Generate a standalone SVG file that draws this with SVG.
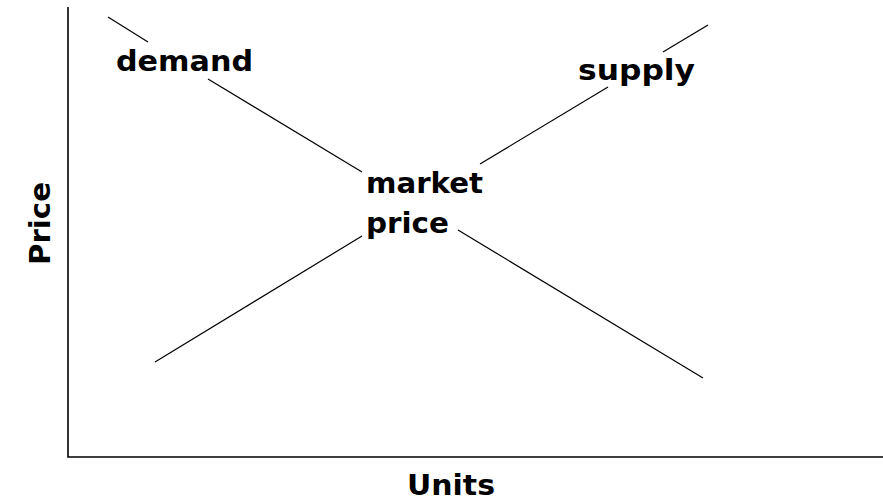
<svg xmlns="http://www.w3.org/2000/svg" width="883" height="501" viewBox="0 0 883 501">
<style>
.lbl{font-family:"DejaVu Sans","Liberation Sans",Arial,sans-serif;font-weight:bold;font-size:29px;fill:#000}
.axis{stroke:#000;stroke-width:1.6;fill:none}
.curve{stroke:#000;stroke-width:1.2;fill:none}
</style>
<rect width="883" height="501" fill="#fff"/>
<g id="axes">
<path class="axis" d="M68,7 V457 H883"/>
</g>
<g id="connectors">
<line class="curve" x1="108" y1="17" x2="148" y2="42"/>
<line class="curve" x1="208" y1="79" x2="362" y2="172"/>
<line class="curve" x1="458" y1="230" x2="703" y2="378"/>
<line class="curve" x1="155" y1="362" x2="362" y2="236"/>
<line class="curve" x1="480" y1="164" x2="608" y2="87"/>
<line class="curve" x1="663" y1="52" x2="708" y2="25"/>
</g>
<g id="demand"><text class="lbl" x="116" y="71" textLength="137" lengthAdjust="spacingAndGlyphs">demand</text></g>
<g id="supply"><text class="lbl" x="578" y="80" textLength="117" lengthAdjust="spacingAndGlyphs">supply</text></g>
<g id="market-price">
<text class="lbl" x="366" y="193" textLength="117" lengthAdjust="spacingAndGlyphs">market</text>
<text class="lbl" x="366" y="233" textLength="83" lengthAdjust="spacingAndGlyphs">price</text>
</g>
<g id="price-axis-label"><text class="lbl" transform="translate(50,265) rotate(-90)" x="0" y="0" textLength="83" lengthAdjust="spacingAndGlyphs">Price</text></g>
<g id="units-axis-label"><text class="lbl" x="407" y="495" textLength="88" lengthAdjust="spacingAndGlyphs">Units</text></g>
</svg>
